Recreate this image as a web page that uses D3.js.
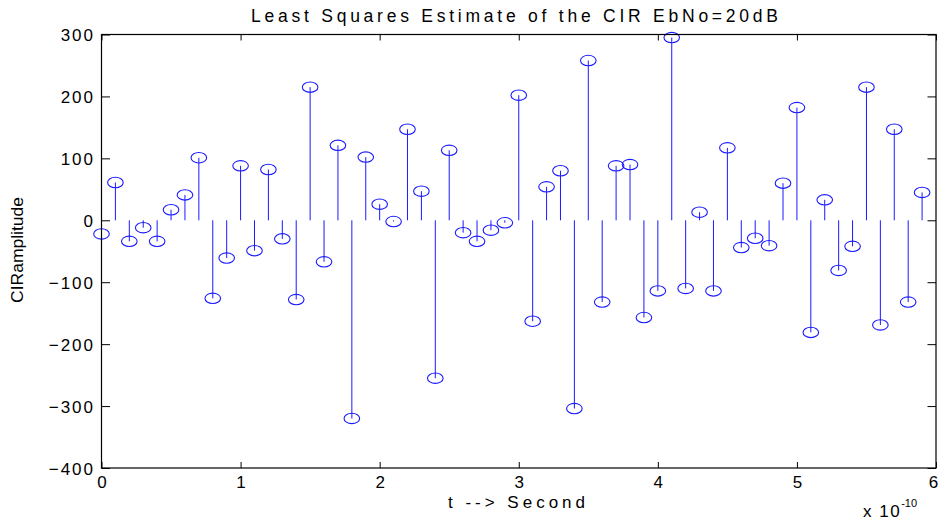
<!DOCTYPE html>
<html>
<head>
<meta charset="utf-8">
<script src="https://cdn.jsdelivr.net/npm/d3@7"></script>
<style>
  html, body { margin: 0; padding: 0; background: #fff; }
  svg { display: block; }
  text { font-family: "Liberation Sans", Arial, Helvetica, sans-serif; fill: #000; }
</style>
</head>
<body>
<svg id="chart" width="940" height="522"></svg>
<script>
// ---- data ----
const timeValues = [
  0.0, 0.1, 0.2, 0.3, 0.4, 0.5, 0.6, 0.7, 0.8, 0.9,
  1.0, 1.1, 1.2, 1.3, 1.4, 1.5, 1.6, 1.7, 1.8, 1.9,
  2.0, 2.1, 2.2, 2.3, 2.4, 2.5, 2.6, 2.7, 2.8, 2.9,
  3.0, 3.1, 3.2, 3.3, 3.4, 3.5, 3.6, 3.7, 3.8, 3.9,
  4.0, 4.1, 4.2, 4.3, 4.4, 4.5, 4.6, 4.7, 4.8, 4.9,
  5.0, 5.1, 5.2, 5.3, 5.4, 5.5, 5.6, 5.7, 5.8, 5.9
];
const cirAmplitude = [
  -22, 61, -34, -12, -34, 17, 41, 101, -126, -61,
  88, -49, 82, -30, -128, 215, -67, 121, -320, 102,
  26, -2, 147, 47, -255, 113, -20, -34, -16, -4,
  202, -163, 54, 80, -304, 258, -132, 88, 90, -157,
  -114, 295, -110, 13, -114, 117, -44, -29, -41, 60,
  182, -181, 33, -81, -42, 215, -169, 147, -132, 45
];
const xTicks = [0, 1, 2, 3, 4, 5, 6];
const yTicks = [-400, -300, -200, -100, 0, 100, 200, 300];
const titleText = "Least Squares Estimate of the CIR EbNo=20dB";
const xLabelText = "t --> Second";
const yLabelText = "CIRamplitude";

// ---- layout ----
const svg = d3.select("#chart");
const plotLeft = 101.5, plotRight = 936, plotTop = 34.5, plotBottom = 468;
const x = d3.scaleLinear().domain([0, 6]).range([plotLeft, plotRight]);
const y = d3.scaleLinear().domain([-400, 300]).range([plotBottom, plotTop]);
const stemColor = "#1a1aff";
const ls = 2; // letter spacing for tick labels

// stems
const stems = svg.append("g");
stems.selectAll("line")
  .data(timeValues)
  .join("line")
  .attr("x1", d => x(d)).attr("x2", d => x(d))
  .attr("y1", y(0))
  .attr("y2", (d, i) => y(cirAmplitude[i]))
  .attr("stroke", stemColor)
  .attr("stroke-width", 1);

stems.selectAll("ellipse")
  .data(timeValues)
  .join("ellipse")
  .attr("cx", d => x(d))
  .attr("cy", (d, i) => y(cirAmplitude[i]))
  .attr("rx", 7.8).attr("ry", 5.2)
  .attr("fill", "none")
  .attr("stroke", stemColor)
  .attr("stroke-width", 1.1);

// axes
const axB = svg.append("g").attr("transform", `translate(0,${plotBottom})`)
  .call(d3.axisBottom(x).tickValues(xTicks).tickFormat(d3.format("d"))
        .tickSizeInner(-6).tickSizeOuter(0).tickPadding(8));
const axT = svg.append("g").attr("transform", `translate(0,${plotTop})`)
  .call(d3.axisTop(x).tickValues(xTicks).tickFormat("")
        .tickSizeInner(-6).tickSizeOuter(0));
const axL = svg.append("g").attr("transform", `translate(${plotLeft},0)`)
  .call(d3.axisLeft(y).tickValues(yTicks).tickFormat(d3.format("d"))
        .tickSizeInner(-8.5).tickSizeOuter(0).tickPadding(8.5));
const axR = svg.append("g").attr("transform", `translate(${plotRight},0)`)
  .call(d3.axisRight(y).tickValues(yTicks).tickFormat("")
        .tickSizeInner(-8.5).tickSizeOuter(0));

[axB, axT, axL, axR].forEach(g => {
  g.select(".domain").remove();
  g.selectAll(".tick line").attr("stroke", "#000").attr("stroke-width", 1);
  g.selectAll(".tick text")
    .attr("fill", "#000")
    .style("font-size", "17px")
    .style("letter-spacing", ls + "px")
    .style("font-family", "'Liberation Sans', Arial, sans-serif");
});
axB.selectAll(".tick text").attr("dx", (ls / 2) + "px")
  .filter(d => d === 6).attr("dx", "-2px");
axL.selectAll(".tick text").attr("dx", ls + "px").attr("dy", "0.36em");

// frame
svg.append("rect")
  .attr("x", plotLeft).attr("y", plotTop)
  .attr("width", plotRight - plotLeft).attr("height", plotBottom - plotTop)
  .attr("fill", "none").attr("stroke", "#000").attr("stroke-width", 1.2);

// title
svg.append("text")
  .attr("x", 514.5).attr("y", 22)
  .attr("text-anchor", "middle")
  .attr("textLength", 527).attr("lengthAdjust", "spacing")
  .style("font-size", "17.5px")
  .text(titleText);

// x label
svg.append("text")
  .attr("x", 516.5).attr("y", 508)
  .attr("text-anchor", "middle")
  .attr("textLength", 137).attr("lengthAdjust", "spacing")
  .style("font-size", "17px")
  .text(xLabelText);

// y label
svg.append("text")
  .attr("transform", "translate(23,250) rotate(-90)")
  .attr("text-anchor", "middle")
  .attr("textLength", 106).attr("lengthAdjust", "spacingAndGlyphs")
  .style("font-size", "17px")
  .text(yLabelText);

// exponent
const expo = svg.append("text").attr("x", 863).attr("y", 517).style("font-size", "17px");
expo.append("tspan").text("x 10").style("letter-spacing", "1.5px");
expo.append("tspan").attr("dy", -10).style("font-size", "11px").text("-10");
</script>
</body>
</html>
